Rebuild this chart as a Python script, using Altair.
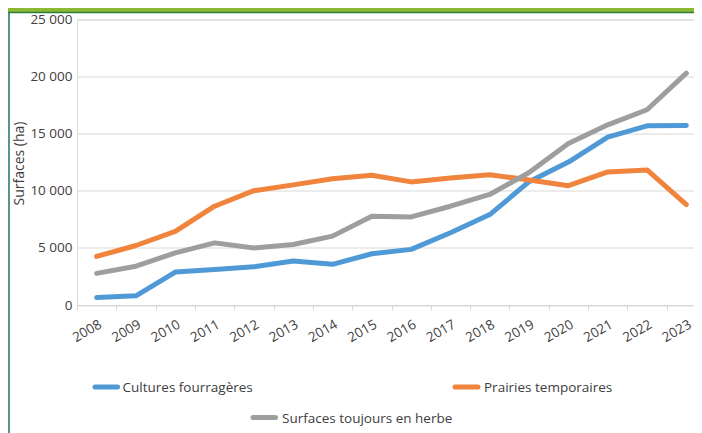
import altair as alt
import pandas as pd

years = [str(y) for y in range(2008, 2024)]
series = ["Cultures fourragères", "Prairies temporaires", "Surfaces toujours en herbe"]
colors = ["#4F9AD6", "#F0843C", "#9D9F9F"]

cultures = [650, 800, 2880, 3110, 3340, 3860, 3560, 4490, 4870, 6330, 7920, 10800, 12520, 14700, 15690, 15720]
prairies = [4250, 5210, 6450, 8650, 10010, 10520, 11060, 11360, 10780, 11120, 11410, 10950, 10450, 11650, 11830, 8800]
herbe = [2770, 3400, 4560, 5440, 5000, 5300, 6030, 7780, 7710, 8650, 9680, 11600, 14150, 15780, 17100, 20300]

y_ticks = [0, 5000, 10000, 15000, 20000, 25000]

rows = []
for name, vals in zip(series, [cultures, prairies, herbe]):
    for yr, v in zip(years, vals):
        rows.append({"year": yr, "series": name, "value": v})
df = pd.DataFrame(rows)

W, H = 617, 285.5
FONT = "Open Sans"
TXT = "#404040"

color_scale = alt.Scale(domain=series, range=colors)

lines = alt.Chart(df).mark_line(strokeWidth=5, strokeCap="round", strokeJoin="round").encode(
    x=alt.X("year:O", sort=years,
            scale=alt.Scale(range=[0, 629], paddingInner=0, paddingOuter=0),
            axis=alt.Axis(title=None, labelAngle=330, tickBand="extent", grid=False,
                          domainColor="#d9d9d9", tickColor="#d9d9d9", tickSize=5,
                          labelPadding=7, labelFontSize=13.5, labelColor=TXT, labelFont=FONT)),
    y=alt.Y("value:Q", scale=alt.Scale(domain=[0, 25000], nice=False),
            axis=alt.Axis(title=None, values=y_ticks, domain=False, ticks=False,
                          gridColor="#d9d9d9", gridWidth=1.2, labelPadding=5,
                          labelFontSize=13.5, labelColor=TXT, labelFont=FONT,
                          labelExpr="replace(format(datum.value, ','), ',', ' ')")),
    color=alt.Color("series:N", scale=color_scale, legend=None),
    order=alt.Order("year:O"),
)

# custom legend (Excel-style centred layout)
leg_pos = {
    series[0]: (18, 40.5, 45.5, 367.5),
    series[1]: (378, 401, 407, 367.5),
    series[2]: (176, 198.5, 205, 398),
}
leg = pd.DataFrame([
    {"series": s, "x1": p[0], "x2": p[1], "tx": p[2], "ly": p[3]} for s, p in leg_pos.items()
])
leg_sym = alt.Chart(leg).mark_rule(strokeWidth=5, strokeCap="round").encode(
    x=alt.X("x1:Q", scale=None), x2="x2:Q", y=alt.Y("ly:Q", scale=None),
    color=alt.Color("series:N", scale=color_scale, legend=None),
)
leg_txt = alt.Chart(leg).mark_text(align="left", baseline="middle", font=FONT,
                                   fontSize=13.5, color=TXT, dy=1).encode(
    x=alt.X("tx:Q", scale=None), y=alt.Y("ly:Q", scale=None), text="series:N",
)

one = pd.DataFrame({"a": [0]})
ytitle = alt.Chart(one).mark_text(text="Surfaces (ha)", angle=270, font=FONT, fontSize=14,
                                  color=TXT, align="center", baseline="middle").encode(
    x=alt.value(-57), y=alt.value(144))

green = alt.Chart(one).mark_rect(color="#8DB833").encode(
    x=alt.value(-69), x2=alt.value(W), y=alt.value(-12), y2=alt.value(-7.5))
dgreen = alt.Chart(one).mark_rule(color="#2F7D3A", strokeWidth=1.3).encode(
    x=alt.value(-69), x2=alt.value(W), y=alt.value(-7))
left = alt.Chart(one).mark_rule(color="#2E7B70", strokeWidth=1.6).encode(
    x=alt.value(-68), y=alt.value(-6.5), y2=alt.value(430))

chart = alt.layer(green, dgreen, left, lines, leg_sym, leg_txt, ytitle).properties(
    width=W, height=H,
    padding={"left": 69, "top": 11.5, "right": 0, "bottom": 128},
    autosize=alt.AutoSizeParams(type="none"),
    background="white",
).configure_view(stroke=None).configure(font=FONT)

chart.save("out.html", embed_options={"renderer": "svg", "actions": False})
